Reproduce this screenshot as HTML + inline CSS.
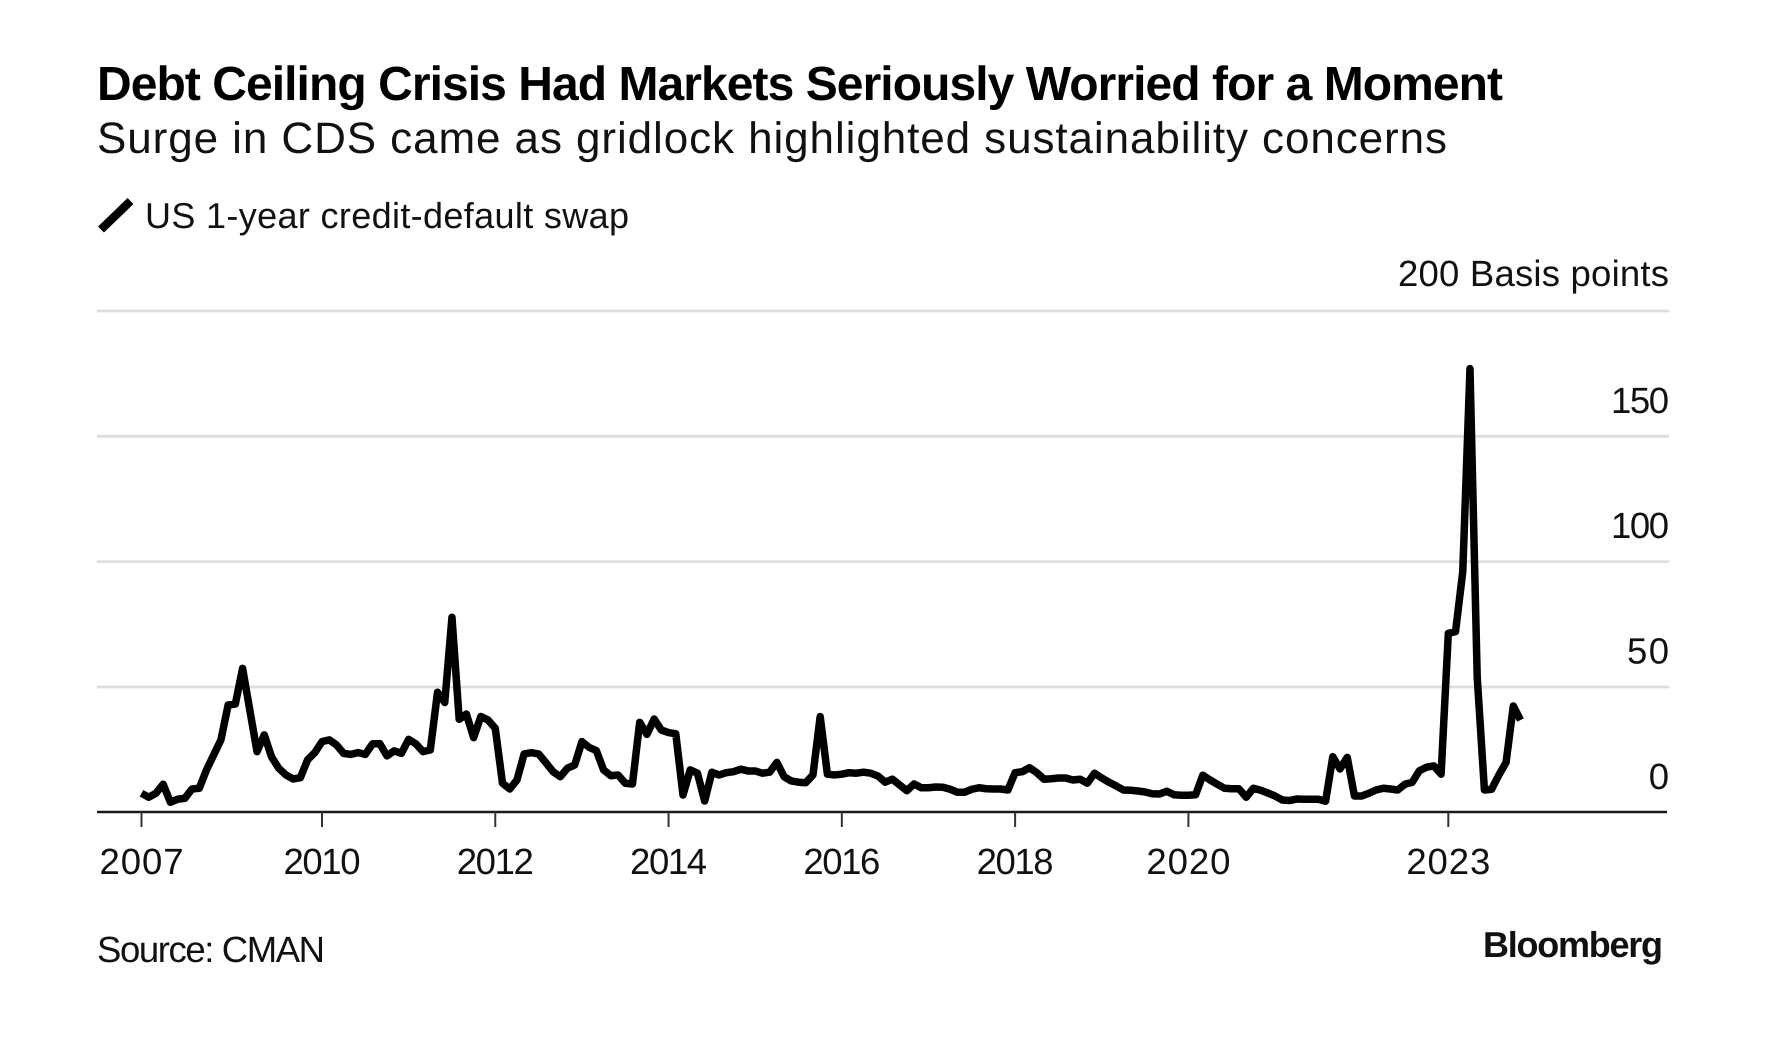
<!DOCTYPE html>
<html lang="en">
<head>
<meta charset="utf-8">
<title>Debt Ceiling Crisis Had Markets Seriously Worried for a Moment</title>
<style>
html,body{margin:0;padding:0;background:#fff;}
body{width:1774px;height:1058px;overflow:hidden;}
svg{display:block;}
text{font-family:"Liberation Sans",sans-serif;fill:#111;text-rendering:geometricPrecision;}
</style>
</head>
<body>
<svg id="chart" xmlns="http://www.w3.org/2000/svg" width="1774" height="1058" viewBox="0 0 1774 1058">
  <rect x="0" y="0" width="1774" height="1058" fill="#ffffff"/>
  <text x="97" y="100" font-size="48" font-weight="700" textLength="1406" lengthAdjust="spacing" style="fill:#000">Debt Ceiling Crisis Had Markets Seriously Worried for a Moment</text>
  <text x="97" y="153" font-size="44" textLength="1350" lengthAdjust="spacing">Surge in CDS came as gridlock highlighted sustainability concerns</text>
  <line x1="101" y1="229.5" x2="130.5" y2="201" stroke="#000" stroke-width="8.5"/>
  <text x="145" y="228" font-size="36" textLength="484" lengthAdjust="spacing">US 1-year credit-default swap</text>
  <text x="1669" y="286" font-size="36.5" text-anchor="end" textLength="271" lengthAdjust="spacing">200 Basis points</text>
  <g id="grid"></g>
  <g id="y-labels"></g>
  <line x1="97" y1="812" x2="1667" y2="812" stroke="#1a1a1a" stroke-width="2.5"/>
  <g id="x-ticks"></g>
  <path id="series" fill="none" stroke="#000" stroke-width="7.5" stroke-linejoin="round" stroke-linecap="butt"/>
  <text x="97" y="962" font-size="36.5" textLength="228" lengthAdjust="spacing">Source: CMAN</text>
  <text x="1483" y="957" font-size="36" font-weight="700" textLength="180" lengthAdjust="spacing">Bloomberg</text>
</svg>
<script>
// Monthly CDS readings in basis points, first point is the "2007" tick.
const cdsValues = [
  7.6,6,7.6,11.2,4,5.2,5.6,9.3,9.6,16.9,22.9,28.9,42.8,43.2,57.4,40.8,24.2,30.9,22.2,17.6,
  14.9,13.3,13.8,20.9,23.8,28.2,28.9,26.9,23.5,23.1,23.8,23.1,27.3,27.4,22.5,24.5,23.5,29.1,27.3,24.2,
  24.9,47.9,43.8,77.8,37.1,39.2,29.8,38.2,36.8,33.5,11.6,9.3,12.9,23.3,23.8,23.3,19.8,16.2,14.2,17.6,
  18.9,28.2,25.9,24.6,16.9,14.6,14.9,11.6,11.3,35.9,31.1,37.2,32.8,31.8,31.3,6.9,16.9,15.6,4.5,16,
  14.9,15.8,16.2,17.2,16.5,16.5,15.6,16,19.9,14.2,12.5,12,11.8,14.9,38.2,15.2,14.9,15.2,15.8,15.6,
  16,15.6,14.5,12,13.2,10.9,8.6,11.3,9.8,9.8,10.1,10,9.2,8,8,9.2,9.8,9.4,9.3,9.3,
  8.9,15.8,16.2,17.8,15.8,13.2,13.4,13.7,13.7,12.9,13.2,11.6,15.6,13.7,12,10.5,8.9,8.8,8.5,8.1,
  7.4,7.3,8.4,7,6.8,6.8,7,14.8,12.9,11.2,9.6,9.4,9.4,6,9.6,8.8,7.7,6.5,4.9,4.7,
  5.3,5.2,5.2,5.2,4.4,22.2,17.3,21.9,6.5,6.5,7.6,8.9,9.6,9.3,8.9,11.2,12,16.6,18,18.5,
  15.2,71.4,72.1,96,177,54,8.9,9.2,14.9,19.9,42.4,36.8
];
const xTickLabels = ["2007","2010","2012","2014","2016","2018","2020","2023"];
const xTickIndexes = [0,25,49,73,97,121,145,181];
const yGridValues = [200,150,100,50,0];
const yTickLabels = ["150","100","50","0"];
const yTickValues = [150,100,50,0];

const SVG_NS = "http://www.w3.org/2000/svg";
const plotLeft = 97, gridRight = 1669;
const xStart = 141.5, xStep = 7.24;
const yZero = 812.3, yPerUnit = 2.5065;
function xScale(i){ return xStart + xStep * i; }
function xTickScale(i){ return xStart + 7.22 * i; }
function yScale(v){ return yZero - yPerUnit * v; }
// The reference face sets a narrow "1"; fit each label to that width.
function countOnes(s){ return s.split("1").length - 1; }

const gridGroup = document.getElementById("grid");
yGridValues.forEach(function(v){
  if (v === 0) return;
  const gl = document.createElementNS(SVG_NS, "line");
  gl.setAttribute("x1", plotLeft);
  gl.setAttribute("x2", gridRight);
  gl.setAttribute("y1", yScale(v));
  gl.setAttribute("y2", yScale(v));
  gl.setAttribute("stroke", "#dedede");
  gl.setAttribute("stroke-width", "2.8");
  
  
  gridGroup.appendChild(gl);
});

const yLabelGroup = document.getElementById("y-labels");
yTickValues.forEach(function(v, k){
  const t = document.createElementNS(SVG_NS, "text");
  const label = yTickLabels[k];
  t.setAttribute("x", 1669);
  t.setAttribute("y", yScale(v) - 23.5);
  t.setAttribute("font-size", "36.5");
  t.setAttribute("text-anchor", "end");
  t.setAttribute("textLength", label.length * 21 - countOnes(label) * 5);
  t.setAttribute("lengthAdjust", "spacing");
  
  
  t.textContent = label;
  yLabelGroup.appendChild(t);
});

const xTickGroup = document.getElementById("x-ticks");
xTickIndexes.forEach(function(idx, k){
  const label = xTickLabels[k];
  const tick = document.createElementNS(SVG_NS, "line");
  tick.setAttribute("x1", xTickScale(idx));
  tick.setAttribute("x2", xTickScale(idx));
  tick.setAttribute("y1", 812);
  tick.setAttribute("y2", 827);
  tick.setAttribute("stroke", "#333");
  tick.setAttribute("stroke-width", "2");
  
  
  xTickGroup.appendChild(tick);
  const lab = document.createElementNS(SVG_NS, "text");
  lab.setAttribute("x", xTickScale(idx));
  lab.setAttribute("y", 874);
  lab.setAttribute("font-size", "36.5");
  lab.setAttribute("text-anchor", "middle");
  lab.setAttribute("textLength", 84 - countOnes(label) * 7);
  lab.setAttribute("lengthAdjust", "spacing");
  
  
  lab.textContent = label;
  xTickGroup.appendChild(lab);
});

document.getElementById("series").setAttribute("d", cdsValues.map(function(v, i){
  return (i === 0 ? "M" : "L") + xTickScale(i).toFixed(2) + " " + yScale(v).toFixed(2);
}).join(" "));
</script>
</body>
</html>
